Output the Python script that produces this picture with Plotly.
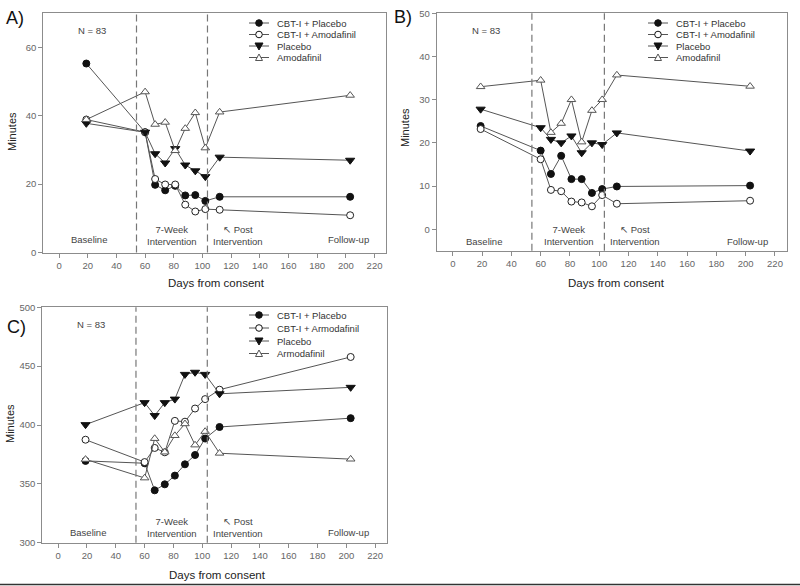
import plotly.graph_objects as go

# ---------------------------------------------------------------------
# data (days from consent, minutes)
# ---------------------------------------------------------------------

days = [19, 60, 67, 74, 81, 88, 95, 102, 112, 203]

# panel A
a_cbt_placebo = [55.3, 35.2, 19.8, 18.2, 19.5, 16.7, 16.8, 15.1, 16.3, 16.3]
a_cbt_drug = [38.9, 35.2, 21.5, 19.9, 19.9, 14.0, 12.0, 12.7, 12.5, 10.9]
a_placebo = [37.8, 35.2, 28.9, 26.2, 30.4, 25.6, 23.9, 22.2, 27.9, 27.0]
a_drug = [38.9, 47.0, 37.5, 38.1, 29.8, 36.3, 40.9, 30.6, 41.1, 46.0]

# panel B
b_cbt_placebo = [23.9, 18.2, 12.8, 17.0, 11.6, 11.6, 8.4, 9.3, 9.9, 10.1]
b_cbt_drug = [23.2, 16.2, 9.1, 8.8, 6.4, 6.2, 5.3, 7.9, 5.9, 6.6]
b_placebo = [27.8, 23.5, 20.8, 20.0, 21.6, 17.7, 20.0, 19.6, 22.3, 18.1]
b_drug = [33.0, 34.5, 22.4, 24.5, 30.0, 20.2, 27.5, 30.0, 35.7, 33.1]

# panel C
c_cbt_placebo = [369.5, 367.5, 344.5, 349.6, 357.0, 366.6, 374.5, 388.5, 398.3, 405.8]
c_cbt_drug = [387.5, 368.5, 380.5, 376.8, 403.5, 402.8, 414.0, 422.0, 430.0, 457.8]
c_placebo = [400.3, 419.0, 408.0, 419.0, 422.0, 443.0, 444.8, 443.0, 426.5, 432.0]
c_drug = [370.8, 355.0, 388.5, 377.0, 391.0, 401.0, 383.0, 394.5, 376.0, 371.0]

labels_ab = ['CBT-I + Placebo', 'CBT-I + Amodafinil', 'Placebo', 'Amodafinil']
labels_c = ['CBT-I + Placebo', 'CBT-I + Armodafinil', 'Placebo', 'Armodafinil']

phase_lines = [54, 103.5]
x_ticks = list(range(0, 221, 20))


W, H = 800, 586
FONT = 'Liberation Sans, Arial, sans-serif'
LINE_COL = '#555555'
AXIS_COL = '#8c8c8c'


def px(x):
    return x / W


def py(y):
    return 1 - y / H


# marker style per group
styles = [
    dict(symbol='circle', size=7, color='#111111', line=dict(color='#111111', width=1)),
    dict(symbol='circle', size=7, color='white', line=dict(color='#222222', width=1)),
    dict(symbol='triangle-down', size=8, color='#111111', line=dict(color='#111111', width=1)),
    dict(symbol='triangle-up', size=7.5, color='white', line=dict(color='#555555', width=1)),
]

fig = go.Figure()

panels = [
    ('x', 'y', [a_cbt_placebo, a_cbt_drug, a_placebo, a_drug]),
    ('x2', 'y2', [b_cbt_placebo, b_cbt_drug, b_placebo, b_drug]),
    ('x3', 'y3', [c_cbt_placebo, c_cbt_drug, c_placebo, c_drug]),
]

for xa, ya, series in panels:
    for vals, st in zip(series, styles):
        fig.add_trace(go.Scatter(
            x=days, y=vals, xaxis=xa, yaxis=ya,
            mode='lines+markers',
            line=dict(color=LINE_COL, width=1),
            marker=st,
            showlegend=False,
            hoverinfo='skip'
        ))

shapes = []
annotations = []

# dashed phase boundaries
for xa, ya in [('x', 'y'), ('x2', 'y2'), ('x3', 'y3')]:
    for xv in phase_lines:
        shapes.append(dict(
            type='line', xref=xa, yref=ya + ' domain',
            x0=xv, x1=xv, y0=0, y1=1,
            line=dict(color='#777777', width=1.2, dash='7px,4px')
        ))


def legend_block(x0, rows_y, labels):
    # hand drawn legend, rows closer together than plotly's own legend
    for i, (lab, yy) in enumerate(zip(labels, rows_y)):
        shapes.append(dict(
            type='line', xref='paper', yref='paper',
            x0=px(x0), x1=px(x0 + 20), y0=py(yy), y1=py(yy),
            line=dict(color=LINE_COL, width=1)
        ))
        cx = x0 + 10
        if i < 2:
            fill = '#111111' if i == 0 else 'white'
            r = 3.3
            shapes.append(dict(
                type='circle', xref='paper', yref='paper',
                x0=px(cx - r), x1=px(cx + r), y0=py(yy + r), y1=py(yy - r),
                fillcolor=fill, line=dict(color='#111111', width=1)
            ))
        elif i == 2:
            pts = [(cx - 4, yy - 3), (cx + 4, yy - 3), (cx, yy + 4)]
            path = 'M %f,%f L %f,%f L %f,%f Z' % tuple(
                v for p in pts for v in (px(p[0]), py(p[1])))
            shapes.append(dict(
                type='path', xref='paper', yref='paper', path=path,
                fillcolor='#111111', line=dict(color='#111111', width=1)
            ))
        else:
            pts = [(cx - 3.5, yy + 3), (cx + 3.5, yy + 3), (cx, yy - 3.5)]
            path = 'M %f,%f L %f,%f L %f,%f Z' % tuple(
                v for p in pts for v in (px(p[0]), py(p[1])))
            shapes.append(dict(
                type='path', xref='paper', yref='paper', path=path,
                fillcolor='white', line=dict(color='#555555', width=1)
            ))
        annotations.append(dict(
            xref='paper', yref='paper', x=px(x0 + 26), y=py(yy),
            xanchor='left', yanchor='middle', showarrow=False,
            text=lab, font=dict(family=FONT, size=9.5, color='#333333')
        ))


legend_block(249, [23, 34.5, 46, 57.5], labels_ab)
legend_block(648, [23, 34.5, 46, 57.5], labels_ab)
legend_block(249, [315, 328, 341, 353.5], labels_c)


def note(xa, ya, x, y, text):
    annotations.append(dict(
        xref=xa, yref=ya, x=x, y=y, text=text, showarrow=False,
        xanchor='center', yanchor='middle', align='center',
        font=dict(family=FONT, size=9.5, color='#444444')
    ))


# phase labels inside each panel (data coords)
for xa, ya, n_y, base_y, mid_y in [('x', 'y', 65, 3.7, 5.1),
                                   ('x2', 'y2', 46, -2.9, -1.5),
                                   ('x3', 'y3', 485.5, 308.8, 313)]:
    note(xa, ya, 23, n_y, 'N = 83')
    note(xa, ya, 21, base_y, 'Baseline')
    note(xa, ya, 79, mid_y, '7-Week<br>Intervention')
    note(xa, ya, 124.5, mid_y, '↖ Post<br>Intervention')
    note(xa, ya, 201.5, base_y, 'Follow-up')

# axis titles and panel letters
for x, y in [(216, 283), (616, 283), (217, 575)]:
    annotations.append(dict(
        xref='paper', yref='paper', x=px(x), y=py(y), text='Days from consent',
        showarrow=False, xanchor='center', yanchor='middle',
        font=dict(family=FONT, size=11.5, color='#222222')
    ))
for x, y in [(12, 132), (405, 128), (10, 424)]:
    annotations.append(dict(
        xref='paper', yref='paper', x=px(x), y=py(y), text='Minutes',
        showarrow=False, xanchor='center', yanchor='middle', textangle=-90,
        font=dict(family=FONT, size=11, color='#222222')
    ))
for x, y, t in [(15, 18, 'A)'), (403, 17, 'B)'), (16, 327, 'C)')]:
    annotations.append(dict(
        xref='paper', yref='paper', x=px(x), y=py(y), text=t,
        showarrow=False, xanchor='center', yanchor='middle',
        font=dict(family=FONT, size=18, color='#111111')
    ))

# rule along the bottom of the image
shapes.append(dict(
    type='line', xref='paper', yref='paper', x0=0, x1=1,
    y0=py(584.5), y1=py(584.5), line=dict(color='#333333', width=1.5)
))


def xaxis(dom, anchor):
    return dict(
        domain=dom, anchor=anchor, range=[-11, 228],
        tickvals=x_ticks, ticks='outside', ticklen=4, tickcolor=AXIS_COL,
        showline=True, linecolor=AXIS_COL, linewidth=1, mirror=True,
        showgrid=False, zeroline=False, automargin=False,
        tickfont=dict(family=FONT, size=9.5, color='#666666')
    )


def yaxis(dom, anchor, rng, dtick):
    return dict(
        domain=dom, anchor=anchor, range=rng, dtick=dtick, tick0=0,
        ticks='outside', ticklen=4, tickcolor=AXIS_COL,
        showline=True, linecolor=AXIS_COL, linewidth=1, mirror=True,
        showgrid=False, zeroline=False, automargin=False,
        tickfont=dict(family=FONT, size=9.5, color='#666666')
    )


fig.update_layout(
    width=W, height=H,
    margin=dict(l=0, r=0, t=0, b=0),
    paper_bgcolor='white', plot_bgcolor='white',
    showlegend=False,
    xaxis=xaxis([px(43.3), px(386)], 'y'),
    yaxis=yaxis([py(252.5), py(13.3)], 'x', [0, 70], 20),
    xaxis2=xaxis([px(436.7), px(786.7)], 'y2'),
    yaxis2=yaxis([py(250.8), py(13.3)], 'x2', [-5, 50], 10),
    xaxis3=xaxis([px(42.3), px(386.7)], 'y3'),
    yaxis3=yaxis([py(542.7), py(307.3)], 'x3', [300, 500], 50),
    shapes=shapes,
    annotations=annotations,
)

# the page body has an 8px default margin; drop it so the figure sits at 0,0
fig.write_html("out.html", config={'displayModeBar': False},
               post_script="document.body.style.margin='0';")
